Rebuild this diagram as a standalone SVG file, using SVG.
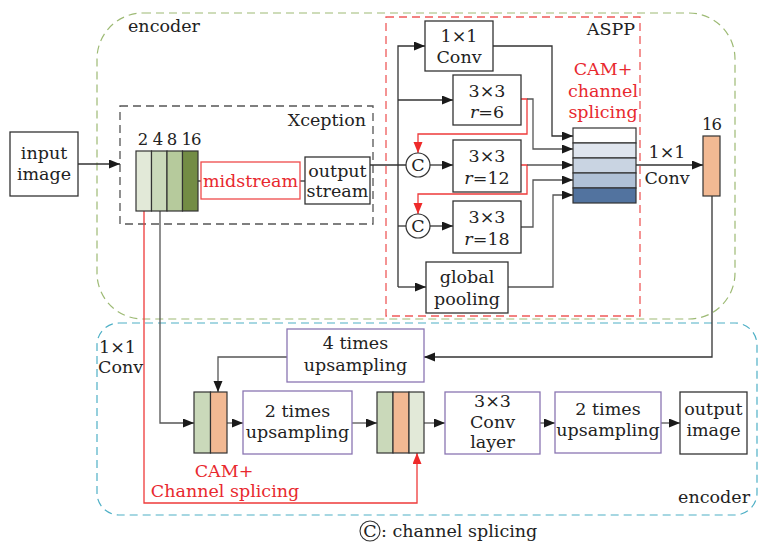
<svg xmlns="http://www.w3.org/2000/svg" width="761" height="542" viewBox="0 0 761 542">
  <style>
    text { font-family: "DejaVu Serif", "Liberation Serif", serif; font-size: 17.5px; fill: #222; }
    .red { fill: #e8282e; }
    .mid { text-anchor: middle; }
    .end { text-anchor: end; }
    .box { fill: #fff; stroke: #333; stroke-width: 1.3; }
    .pbox { fill: #fff; stroke: #8a76b2; stroke-width: 1.3; }
    .cell { stroke: #333; stroke-width: 1.2; }
    .wire { fill: none; stroke: #333; stroke-width: 1.3; }
    .gwire { fill: none; stroke: #555; stroke-width: 1.3; }
    .rwire { fill: none; stroke: #ee3a3a; stroke-width: 1.3; }
    .num { font-size: 16.5px; }
  </style>
  <defs>
    <marker id="arr" markerUnits="userSpaceOnUse" markerWidth="12" markerHeight="10" refX="11" refY="4.5" orient="auto">
      <path d="M0,0 L11,4.5 L0,9 z" fill="#1a1a1a"/>
    </marker>
    <marker id="rarr" markerUnits="userSpaceOnUse" markerWidth="12" markerHeight="10" refX="11" refY="4.5" orient="auto">
      <path d="M0,0 L11,4.5 L0,9 z" fill="#ee2a2a"/>
    </marker>
  </defs>

  <!-- regions -->
  <g id="encoder-region">
    <rect x="97" y="13" width="638" height="306" rx="46" fill="none" stroke="#9dba74" stroke-width="1.2" stroke-dasharray="8,5"/>
    <text x="128" y="32">encoder</text>
  </g>
  <g id="decoder-region">
    <rect x="97" y="323" width="660" height="192" rx="22" fill="none" stroke="#4fb0c6" stroke-width="1.2" stroke-dasharray="8,5"/>
    <text x="750" y="503" class="end">encoder</text>
  </g>
  <g id="xception">
    <rect x="120" y="106" width="253" height="118" fill="none" stroke="#555" stroke-width="1.3" stroke-dasharray="8,5"/>
    <text x="366" y="126" class="end">Xception</text>
  </g>
  <g id="aspp">
    <rect x="386" y="17" width="254" height="299" fill="none" stroke="#ef5a5a" stroke-width="1.3" stroke-dasharray="8,5"/>
    <text x="635" y="35" class="end">ASPP</text>
    <text x="603" y="75" class="mid red">CAM+</text>
    <text x="603" y="97" class="mid red">channel</text>
    <text x="603" y="118" class="mid red">splicing</text>
  </g>

  <!-- connectors -->
  <g id="connectors">
    <path class="wire" d="M78,164 H120" marker-end="url(#arr)"/>
    <path class="wire" d="M198,181 H201"/>
    <path class="wire" d="M300,181 H305"/>
    <path class="wire" d="M370,165 H406"/>
    <path class="wire" d="M398,287 V46 H425" marker-end="url(#arr)"/>
    <path class="wire" d="M398,100 H453" marker-end="url(#arr)"/>
    <path class="wire" d="M430,165 H453" marker-end="url(#arr)"/>
    <path class="wire" d="M398,226 H406"/>
    <path class="wire" d="M430,226 H453" marker-end="url(#arr)"/>
    <path class="wire" d="M398,287 H426" marker-end="url(#arr)"/>
    <!-- feedback splicing -->
    <path class="rwire" d="M521,99 H527 V134 H418 V153" marker-end="url(#rarr)"/>
    <path class="rwire" d="M521,165 H527 V194 H418 V214" marker-end="url(#rarr)"/>
    <!-- into concat stack -->
    <path class="wire" d="M493,46 H552 V136 H573" marker-end="url(#arr)"/>
    <path class="gwire" d="M527,99 H533 V149 H573" marker-end="url(#arr)"/>
    <path class="gwire" d="M527,165 H573" marker-end="url(#arr)"/>
    <path class="gwire" d="M521,227 H533 V180 H573" marker-end="url(#arr)"/>
    <path class="gwire" d="M508,287 H553 V195 H573" marker-end="url(#arr)"/>
    <path class="wire" d="M636,165 H703" marker-end="url(#arr)"/>
    <!-- decoder path -->
    <path class="wire" d="M712,196 V357 H424" marker-end="url(#arr)"/>
    <path class="gwire" d="M287,357 H218 V392" marker-end="url(#arr)"/>
    <path class="gwire" d="M160,211 V423 H194" marker-end="url(#arr)"/>
    <path class="rwire" d="M144,211 V503 H417 V453" marker-end="url(#rarr)"/>
    <path class="gwire" d="M227,423 H243" marker-end="url(#arr)"/>
    <path class="gwire" d="M352,423 H377" marker-end="url(#arr)"/>
    <path class="gwire" d="M424,423 H445" marker-end="url(#arr)"/>
    <path class="gwire" d="M540,423 H555" marker-end="url(#arr)"/>
    <path class="gwire" d="M661,423 H680" marker-end="url(#arr)"/>
  </g>

  <!-- nodes -->
  <g id="input-image">
    <rect class="box" x="10" y="132" width="68" height="64"/>
    <text x="44" y="159" class="mid">input</text>
    <text x="44" y="180" class="mid">image</text>
  </g>
  <g id="backbone-stack">
    <rect class="cell" x="136" y="151" width="15.5" height="60" fill="#e2e9d8"/>
    <rect class="cell" x="151.5" y="151" width="15.5" height="60" fill="#cad9ba"/>
    <rect class="cell" x="167" y="151" width="15.5" height="60" fill="#b6ca9c"/>
    <rect class="cell" x="182.5" y="151" width="15.5" height="60" fill="#738c45"/>
    <text x="143" y="145" class="mid num">2</text>
    <text x="158" y="145" class="mid num">4</text>
    <text x="172" y="145" class="mid num">8</text>
    <text x="191" y="145" class="mid num" letter-spacing="-1">16</text>
  </g>
  <g id="midstream">
    <rect x="201" y="162" width="99" height="37" fill="#fff" stroke="#ef4a4a" stroke-width="1.3"/>
    <text x="250.5" y="187" class="mid red">midstream</text>
  </g>
  <g id="output-stream">
    <rect class="box" x="305" y="157" width="65" height="47"/>
    <text x="337.5" y="177" class="mid">output</text>
    <text x="337.5" y="197" class="mid">stream</text>
  </g>
  <g id="conv1x1">
    <rect class="box" x="425" y="21" width="68" height="50"/>
    <text x="459" y="42" class="mid">1×1</text>
    <text x="459" y="63" class="mid">Conv</text>
  </g>
  <g id="atrous-r6">
    <rect class="box" x="453" y="75" width="68" height="50" fill="#dfe5ee"/>
    <text x="487" y="97" class="mid">3×3</text>
    <text x="487" y="118" class="mid"><tspan font-style="italic">r</tspan>=6</text>
  </g>
  <g id="splice-1">
    <circle cx="418" cy="165" r="12" fill="#fff" stroke="#333" stroke-width="1.2"/>
    <text x="418" y="171" class="mid">C</text>
  </g>
  <g id="atrous-r12">
    <rect class="box" x="453" y="140" width="68" height="52" fill="#c9d4e2"/>
    <text x="487" y="162" class="mid">3×3</text>
    <text x="487" y="184" class="mid"><tspan font-style="italic">r</tspan>=12</text>
  </g>
  <g id="splice-2">
    <circle cx="418" cy="226" r="12" fill="#fff" stroke="#333" stroke-width="1.2"/>
    <text x="418" y="232" class="mid">C</text>
  </g>
  <g id="atrous-r18">
    <rect class="box" x="453" y="201" width="68" height="52" fill="#b0c1d6"/>
    <text x="487" y="223" class="mid">3×3</text>
    <text x="487" y="245" class="mid"><tspan font-style="italic">r</tspan>=18</text>
  </g>
  <g id="global-pooling">
    <rect class="box" x="426" y="262" width="82" height="51" fill="#52739f"/>
    <text x="467" y="283" class="mid">global</text>
    <text x="467" y="305" class="mid">pooling</text>
  </g>
  <g id="concat-stack">
    <rect class="cell" x="573" y="128" width="63" height="15" fill="#ffffff"/>
    <rect class="cell" x="573" y="143" width="63" height="15" fill="#dfe5ee"/>
    <rect class="cell" x="573" y="158" width="63" height="15" fill="#c9d4e2"/>
    <rect class="cell" x="573" y="173" width="63" height="15" fill="#b0c1d6"/>
    <rect class="cell" x="573" y="188" width="63" height="15" fill="#52739f" stroke-width="1.6"/>
  </g>
  <g id="proj-label">
    <text x="667" y="158" class="mid">1×1</text>
    <text x="667" y="184" class="mid">Conv</text>
  </g>
  <g id="encoder-out">
    <rect class="cell" x="703" y="136" width="17" height="60" fill="#f2b993"/>
    <text x="711.5" y="130" class="mid num" letter-spacing="-1">16</text>
  </g>
  <g id="up4">
    <rect class="pbox" x="287" y="329" width="137" height="53"/>
    <text x="355.5" y="349" class="mid">4 times</text>
    <text x="355.5" y="371" class="mid">upsampling</text>
  </g>
  <g id="skip-label">
    <text x="99" y="353">1×1</text>
    <text x="98" y="373">Conv</text>
  </g>
  <g id="decoder-stack-1">
    <rect class="cell" x="194" y="392" width="16.5" height="61" fill="#cad9ba"/>
    <rect class="cell" x="210.5" y="392" width="16.5" height="61" fill="#f2b993"/>
  </g>
  <g id="splice-label">
    <text x="224" y="477" class="mid red">CAM+</text>
    <text x="225" y="497" class="mid red">Channel splicing</text>
  </g>
  <g id="up2-a">
    <rect class="pbox" x="243" y="391" width="109" height="63"/>
    <text x="297.5" y="417" class="mid">2 times</text>
    <text x="297.5" y="438" class="mid">upsampling</text>
  </g>
  <g id="decoder-stack-2">
    <rect class="cell" x="377" y="392" width="16" height="61" fill="#cad9ba"/>
    <rect class="cell" x="393" y="392" width="16" height="61" fill="#f2b993"/>
    <rect class="cell" x="409" y="392" width="15" height="61" fill="#e2e9d8"/>
  </g>
  <g id="conv3x3">
    <rect class="pbox" x="445" y="392" width="95" height="62"/>
    <text x="492.5" y="407" class="mid">3×3</text>
    <text x="492.5" y="428" class="mid">Conv</text>
    <text x="492.5" y="448" class="mid">layer</text>
  </g>
  <g id="up2-b">
    <rect class="pbox" x="555" y="392" width="106" height="61"/>
    <text x="608" y="415" class="mid">2 times</text>
    <text x="608" y="436" class="mid">upsampling</text>
  </g>
  <g id="output-image">
    <rect class="box" x="680" y="392" width="67" height="62"/>
    <text x="713.5" y="415" class="mid">output</text>
    <text x="713.5" y="436" class="mid">image</text>
  </g>
  <g id="legend">
    <circle cx="370" cy="531" r="10" fill="none" stroke="#333" stroke-width="1.1"/>
    <text x="370" y="537" class="mid" font-size="15">C</text>
    <text x="381" y="537">: channel splicing</text>
  </g>
</svg>
